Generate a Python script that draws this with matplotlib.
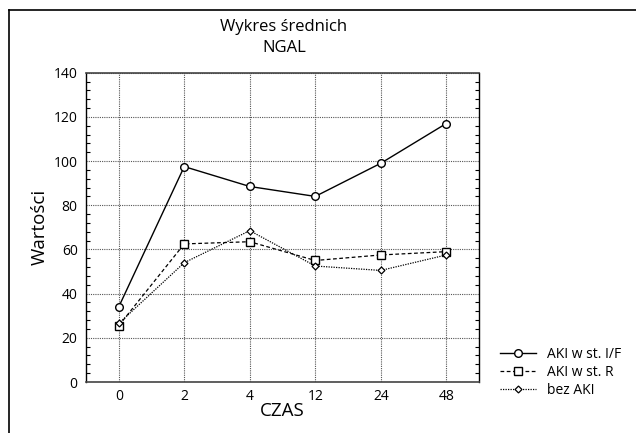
import matplotlib
matplotlib.use("Agg")
import matplotlib.pyplot as plt
from matplotlib.lines import Line2D
from matplotlib.ticker import MultipleLocator

plt.rcParams['font.family'] = ['Open Sans', 'DejaVu Sans']

categories = ["0", "2", "4", "12", "24", "48"]
aki_if = [34, 97.5, 88.5, 84, 99, 117]
aki_r = [25.5, 62.5, 63.5, 55, 57.5, 59]
bez_aki = [26.5, 54, 68.5, 52.5, 50.5, 57.5]
labels = ["AKI w st. I/F", "AKI w st. R", "bez AKI"]

W, H = 636, 433
fig = plt.figure(figsize=(W / 100, H / 100), dpi=100)
ax = fig.add_axes([86 / W, 1 - 382 / H, (479 - 86) / W, (382 - 72.7) / H])

x = list(range(len(categories)))
ax.plot(x, aki_if, color='black', lw=1.0, ls='-', marker='o', ms=5.5,
        mfc='white', mec='black', mew=1.0, label=labels[0], zorder=5)
ax.plot(x, aki_r, color='black', lw=0.9, ls=(0, (3, 2)), marker='s', ms=5.5,
        mfc='white', mec='black', mew=1.0, label=labels[1], zorder=4)
ax.plot(x, bez_aki, color='black', lw=0.9, ls=(0, (1, 1)), marker='D', ms=3.5,
        mfc='white', mec='black', mew=0.9, label=labels[2], zorder=4)

ax.set_xlim(-0.5, len(categories) - 0.5)
ax.set_ylim(0, 140)
ax.set_xticks(x)
ax.set_xticklabels(categories)
ax.set_yticks(range(0, 141, 20))
ax.yaxis.set_minor_locator(MultipleLocator(4))
ax.tick_params(axis='x', length=0, labelsize=10, pad=5)
ax.tick_params(axis='y', which='major', length=0, labelsize=10, pad=6)
ax.tick_params(axis='y', which='minor', direction='in', length=3, width=0.8,
               left=True, right=True)
ax.grid(True, which='major', color='#555555', ls=(0, (1, 1)), lw=0.8)
for s in ['left', 'right']:
    ax.spines[s].set_linewidth(1.0)
for s in ['top', 'bottom']:
    ax.spines[s].set_linewidth(1.2)
    ax.spines[s].set_color('#444444')

fig.text(284 / W, 1 - 27 / H, "Wykres średnich", ha='center', va='center', fontsize=12)
fig.text(284 / W, 1 - 48 / H, "NGAL", ha='center', va='center', fontsize=12)
ax.set_xlabel("CZAS", fontsize=13.5)
ax.set_ylabel("Wartości", fontsize=13.5)
ax.xaxis.set_label_coords(0.5, -(411 - 382) / 309.3)
ax.xaxis.label.set_va('center')
ax.yaxis.set_label_coords(-(86 - 40) / 393, 0.5)
ax.yaxis.label.set_va('center')

leg = ax.legend(loc='upper left', bbox_to_anchor=(494 / W, 1 - 341 / H),
                bbox_transform=fig.transFigure, frameon=False, fontsize=10,
                handlelength=2.6, handletextpad=0.8, labelspacing=0.22,
                borderaxespad=0)

fig.add_artist(Line2D([9 / W, 9 / W], [0, 1 - 10 / H], color='black', lw=1.2,
                      transform=fig.transFigure))
fig.add_artist(Line2D([9 / W, 1], [1 - 10 / H, 1 - 10 / H], color='black', lw=1.2,
                      transform=fig.transFigure))

fig.savefig("out.png", dpi=100)
